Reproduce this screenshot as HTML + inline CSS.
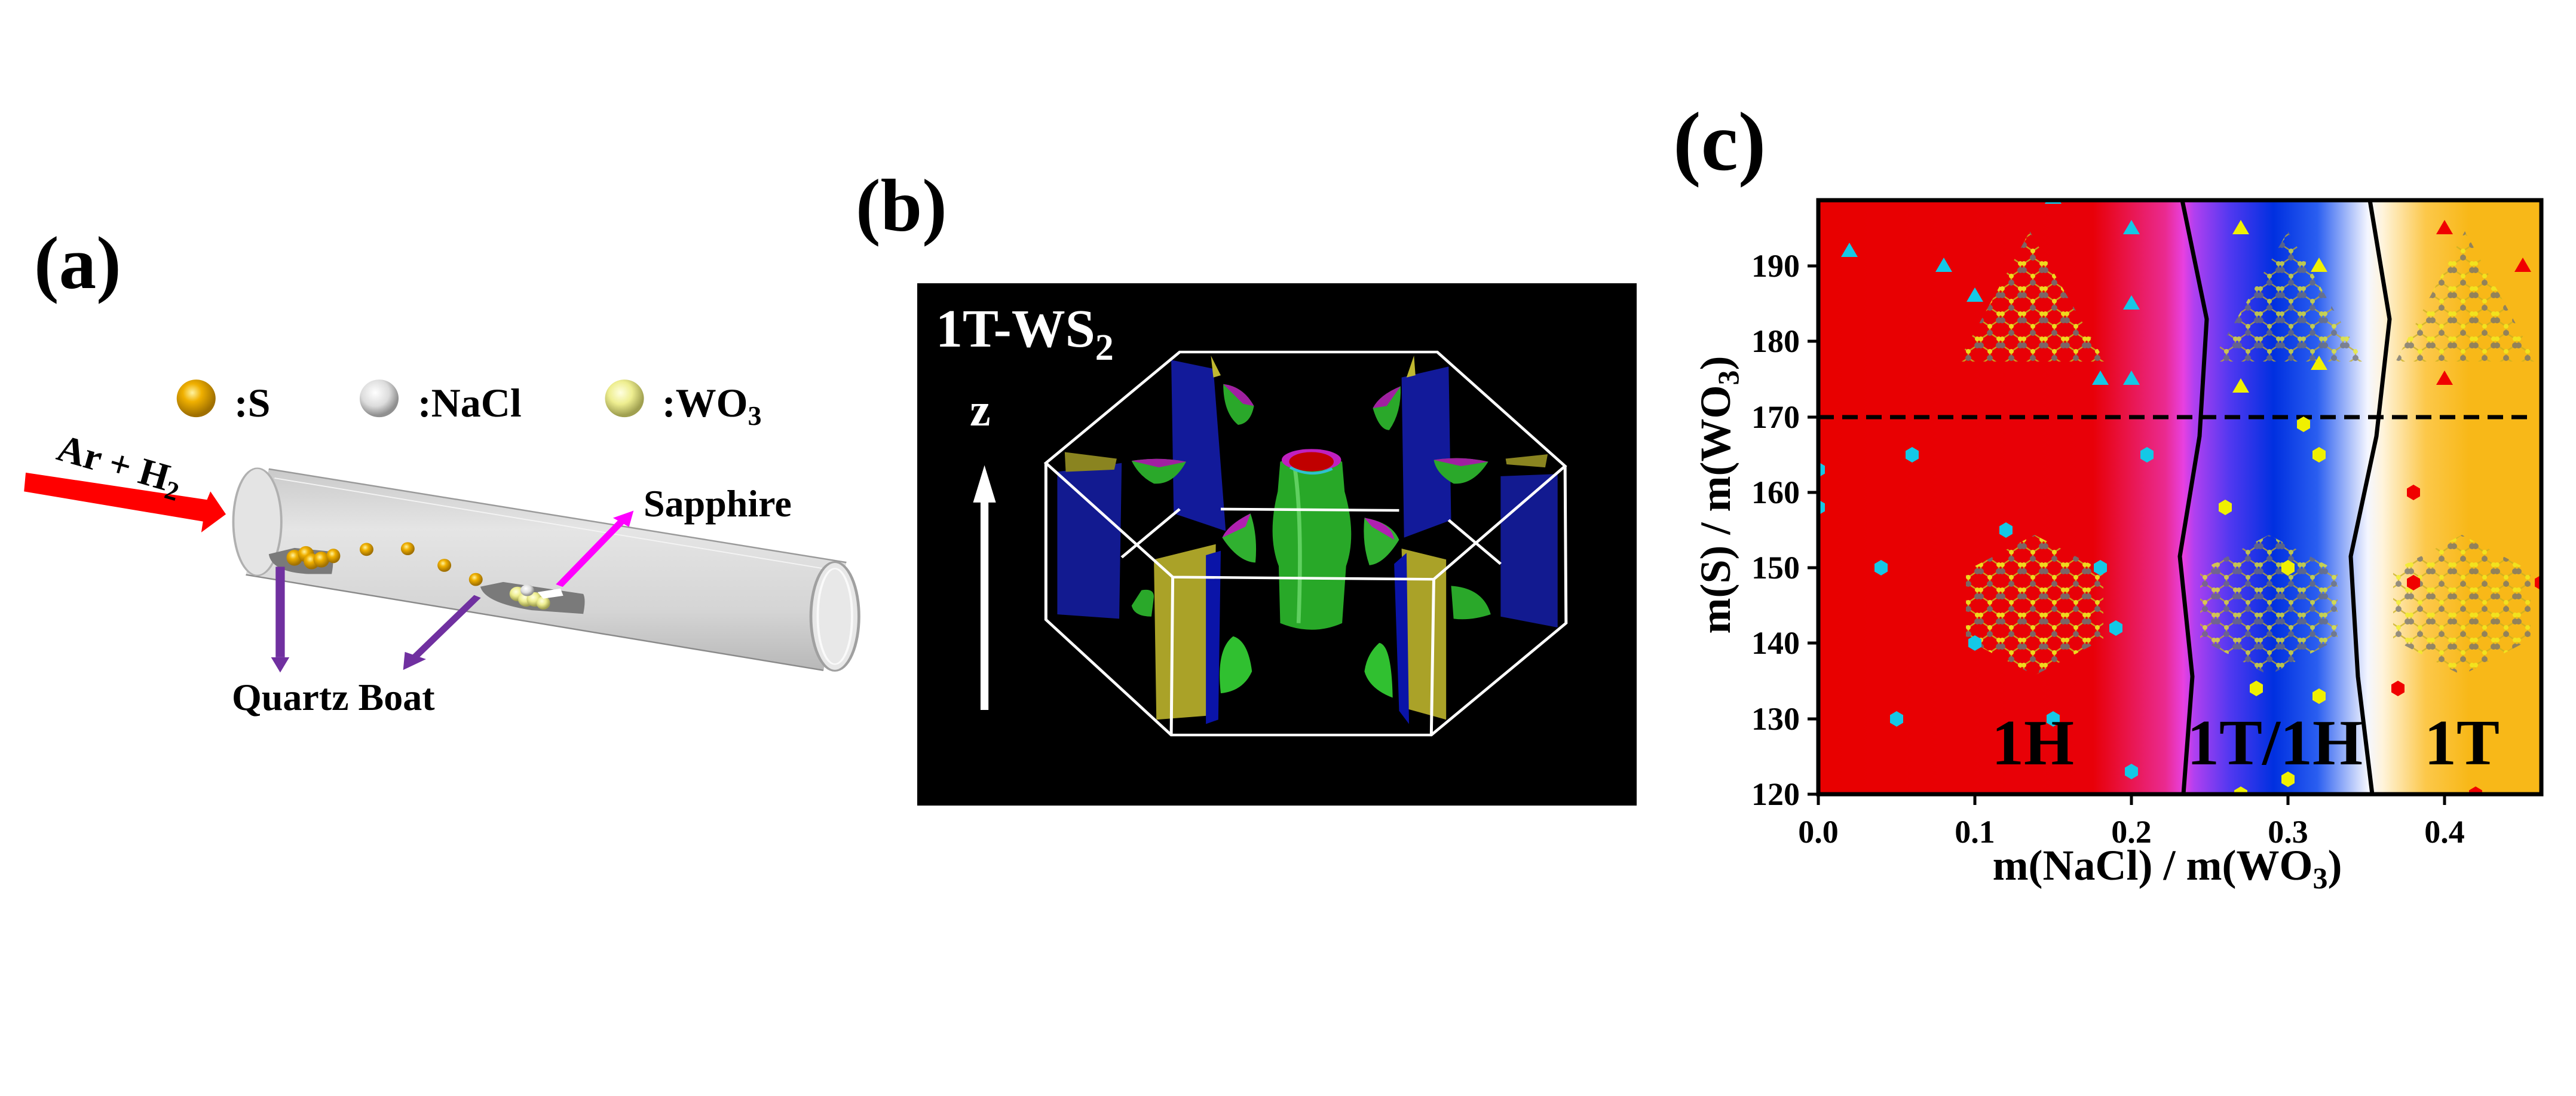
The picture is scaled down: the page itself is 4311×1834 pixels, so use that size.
<!DOCTYPE html>
<html><head><meta charset="utf-8"><style>
html,body{margin:0;padding:0;background:#fff;}
svg{display:block;}
text{font-family:"Liberation Serif",serif;font-weight:bold;}
</style></head><body>
<svg width="4311" height="1834" viewBox="0 0 4311 1834" xmlns="http://www.w3.org/2000/svg">
<defs>
<linearGradient id="bg" x1="3043" y1="0" x2="4253" y2="0" gradientUnits="userSpaceOnUse">
<stop offset="0" stop-color="#e80000"/>
<stop offset="0.38" stop-color="#e80008"/>
<stop offset="0.48" stop-color="#ea2a90"/>
<stop offset="0.505" stop-color="#e840e0"/>
<stop offset="0.52" stop-color="#b040f0"/>
<stop offset="0.57" stop-color="#5038f0"/>
<stop offset="0.63" stop-color="#0030e0"/>
<stop offset="0.69" stop-color="#2a5ef0"/>
<stop offset="0.76" stop-color="#f4f6ff"/>
<stop offset="0.78" stop-color="#fff4dc"/>
<stop offset="0.84" stop-color="#fcc84a"/>
<stop offset="0.9" stop-color="#f8b818"/>
<stop offset="1" stop-color="#f8b818"/>
</linearGradient>
<linearGradient id="tube" x1="0" y1="0" x2="0" y2="1">
<stop offset="0" stop-color="#c4c4c4"/><stop offset="0.3" stop-color="#e2e2e2"/><stop offset="0.7" stop-color="#d0d0d0"/><stop offset="1" stop-color="#b0b0b0"/>
</linearGradient>
<radialGradient id="gS" cx="0.4" cy="0.35" r="0.6"><stop offset="0" stop-color="#fff3a0"/><stop offset="0.4" stop-color="#f0b000"/><stop offset="1" stop-color="#a07000"/></radialGradient>
<radialGradient id="gN" cx="0.4" cy="0.35" r="0.6"><stop offset="0" stop-color="#ffffff"/><stop offset="0.6" stop-color="#dcdcdc"/><stop offset="1" stop-color="#909090"/></radialGradient>
<radialGradient id="gW" cx="0.4" cy="0.35" r="0.6"><stop offset="0" stop-color="#ffffe0"/><stop offset="0.5" stop-color="#eeee90"/><stop offset="1" stop-color="#a0a050"/></radialGradient>
<pattern id="atoms" x="0" y="0" width="36" height="42" patternUnits="userSpaceOnUse">
<path d="M18 0 L18 11 L3 21 L3 32 L18 42 M18 11 L33 21 L33 32 L18 42" stroke="#c8b020" stroke-width="2.5" fill="none"/>
<circle cx="18" cy="11" r="5" fill="#707070"/><circle cx="3" cy="32" r="5" fill="#707070"/><circle cx="33" cy="32" r="5" fill="#707070"/>
<circle cx="3" cy="21" r="4" fill="#f0f020"/><circle cx="33" cy="21" r="4" fill="#f0f020"/><circle cx="18" cy="42" r="4" fill="#f0f020"/><circle cx="18" cy="0" r="4" fill="#f0f020"/>
</pattern>
<polygon id="tri" points="0,-14 14,10 -14,10"/>
<polygon id="hex" points="0,-13 11,-6.5 11,6.5 0,13 -11,6.5 -11,-6.5"/>
</defs>
<rect width="4311" height="1834" fill="#fff"/>

<!-- ============ PANEL A ============ -->
<text x="57" y="482" font-size="125">(a)</text>
<g transform="translate(0,300) scale(0.957,0.606)">
 <polygon points="470,800 1480,1058 1440,1356 430,1092" fill="url(#tube)" opacity="0.9"/>
 <line x1="470" y1="800" x2="1480" y2="1058" stroke="#9a9a9a" stroke-width="4"/>
 <line x1="430" y1="1092" x2="1440" y2="1356" stroke="#8a8a8a" stroke-width="4"/>
 <line x1="480" y1="825" x2="1460" y2="1080" stroke="#f4f4f4" stroke-width="3"/>
 <ellipse cx="450" cy="946" rx="42" ry="148" fill="#e4e4e4" stroke="#b0b0b0" stroke-width="4"/>
 <ellipse cx="1460" cy="1207" rx="42" ry="150" fill="#e8e8e8" stroke="#a0a0a0" stroke-width="5"/>
 <ellipse cx="1460" cy="1207" rx="30" ry="132" fill="none" stroke="#fafafa" stroke-width="4"/>
 <path d="M470,1035 Q475,1085 540,1090 L580,1090 Q585,1050 580,1028 L515,1018 Z" fill="#7a7a7a"/>
 <path d="M840,1125 Q848,1170 930,1190 L1020,1200 Q1025,1160 1020,1145 L880,1112 Z" fill="#7a7a7a"/>
 <g fill="url(#gS)">
  <ellipse cx="515" cy="1045" rx="14" ry="22"/><ellipse cx="535" cy="1035" rx="14" ry="22"/><ellipse cx="545" cy="1055" rx="14" ry="22"/><ellipse cx="562" cy="1050" rx="14" ry="22"/><ellipse cx="583" cy="1040" rx="12" ry="20"/>
  <ellipse cx="641" cy="1022" rx="12" ry="18"/><ellipse cx="713" cy="1020" rx="12" ry="18"/><ellipse cx="777" cy="1066" rx="12" ry="18"/><ellipse cx="832" cy="1105" rx="12" ry="18"/>
 </g>
 <g fill="url(#gW)"><ellipse cx="905" cy="1145" rx="14" ry="20"/><ellipse cx="920" cy="1160" rx="14" ry="20"/><ellipse cx="935" cy="1160" rx="14" ry="20"/><ellipse cx="950" cy="1170" rx="12" ry="18"/></g>
 <ellipse cx="922" cy="1135" rx="12" ry="16" fill="url(#gN)"/>
 <polygon points="940,1140 980,1130 985,1150 950,1158" fill="#fff"/>
 <polygon points="45,810 362,885 368,862 395,925 352,975 355,945 42,862" fill="#ff0000"/>
 <line x1="978" y1="1122" x2="1090" y2="940" stroke="#ff00ff" stroke-width="14"/>
 <polygon points="1108,915 1072,935 1100,960" fill="#ff00ff"/>
 <line x1="490" y1="1070" x2="490" y2="1320" stroke="#7030a0" stroke-width="16"/>
 <polygon points="474,1320 506,1320 490,1362" fill="#7030a0"/>
 <line x1="835" y1="1152" x2="725" y2="1320" stroke="#7030a0" stroke-width="14"/>
 <polygon points="705,1355 708,1305 745,1325" fill="#7030a0"/>
 <ellipse cx="343" cy="605" rx="34" ry="52" fill="url(#gS)"/>
 <ellipse cx="663" cy="605" rx="34" ry="52" fill="url(#gN)"/>
 <ellipse cx="1092" cy="605" rx="34" ry="52" fill="url(#gW)"/>
</g>
<text x="392" y="697" font-size="68">:S</text>
<text x="699" y="697" font-size="68">:NaCl</text>
<text x="1108" y="697" font-size="68">:WO<tspan font-size="46" dy="14">3</tspan></text>
<text x="92" y="768" font-size="64" transform="rotate(16 92 768)">Ar + H<tspan font-size="44" dy="12">2</tspan></text>
<text x="1077" y="864" font-size="64">Sapphire</text>
<text x="388" y="1188" font-size="64">Quartz Boat</text>

<!-- ============ PANEL B ============ -->
<text x="1432" y="386" font-size="125">(b)</text>
<rect x="1535" y="474" width="1204" height="874" fill="#000"/>
<g transform="translate(1500,250) scale(0.829,0.734)">
 <polygon points="555,480 640,500 665,870 560,830" fill="#121a9a"/>
 <polygon points="1020,520 1115,495 1120,845 1025,885" fill="#121a9a"/>
 <polygon points="325,735 455,715 450,1070 325,1060" fill="#121a90"/>
 <polygon points="1220,745 1335,740 1335,1090 1220,1065" fill="#121a90"/>
 <polygon points="340,690 445,705 440,730 342,735" fill="#8a8420"/>
 <polygon points="1230,705 1315,695 1310,725 1232,718" fill="#8a8420"/>
 <polygon points="635,470 655,515 640,520" fill="#c0b830"/>
 <polygon points="1045,470 1030,520 1048,515" fill="#c0b830"/>
 <path d="M660,535 Q700,540 722,585 Q715,625 690,628 Q660,600 660,535Z" fill="#2aa82a"/>
 <path d="M660,535 Q700,540 722,585 L700,580Z" fill="#a020a0"/>
 <path d="M1018,540 Q975,560 962,590 Q975,640 995,640 Q1020,600 1018,540Z" fill="#2aa82a"/>
 <path d="M1018,540 Q975,560 962,590 L990,585Z" fill="#a020a0"/>
 <path d="M475,710 Q530,700 585,712 Q560,765 520,762 Q490,745 475,710Z" fill="#2aa82a"/>
 <path d="M475,710 Q530,700 585,712 L530,725Z" fill="#a020a0"/>
 <path d="M1085,708 Q1140,698 1195,712 Q1165,765 1125,762 Q1090,740 1085,708Z" fill="#2aa82a"/>
 <path d="M1085,708 Q1140,698 1195,712 L1140,722Z" fill="#a020a0"/>
 <path d="M715,830 Q670,855 658,885 Q690,940 725,942 Q730,880 715,830Z" fill="#30b030"/>
 <path d="M715,830 Q670,855 658,885 L705,860Z" fill="#b020b0"/>
 <path d="M945,840 Q1000,850 1015,890 Q985,945 955,948 Q940,900 945,840Z" fill="#30b030"/>
 <path d="M945,840 Q1000,850 1005,890 L960,860Z" fill="#b020b0"/>
 <path d="M495,1005 Q520,1000 520,1020 L515,1065 Q480,1065 475,1040Z" fill="#2aa82a"/>
 <path d="M1120,995 Q1185,1000 1200,1060 Q1160,1075 1125,1070Z" fill="#2aa82a"/>
 <path d="M680,1110 Q710,1120 718,1190 Q700,1235 655,1240 Q645,1140 680,1110Z" fill="#30c030"/>
 <path d="M975,1125 Q1000,1130 1002,1250 Q955,1230 945,1190 Q950,1150 975,1125Z" fill="#30c030"/>
 <path d="M775,712 Q840,680 900,712 L905,780 Q930,880 908,950 L900,1080 Q840,1110 775,1080 L772,950 Q748,880 770,780Z" fill="#28a828"/>
 <path d="M805,730 Q820,850 812,1080" stroke="#60d060" stroke-width="8" fill="none"/>
 <ellipse cx="838" cy="708" rx="60" ry="25" fill="#c020c0"/>
 <ellipse cx="838" cy="712" rx="45" ry="22" fill="#c00000"/>
 <path d="M795,725 Q838,750 880,728" stroke="#30c0d0" stroke-width="6" fill="none"/>
 <polygon points="520,935 645,900 640,1290 525,1300" fill="#aaa228"/>
 <polygon points="1020,910 1110,935 1110,1300 1030,1275" fill="#aaa228"/>
 <polygon points="625,925 655,915 650,1300 625,1310" fill="#0a14a8"/>
 <polygon points="1005,945 1030,920 1035,1310 1015,1280" fill="#0a14a8"/>
 <g stroke="#fff" stroke-width="6" fill="none">
  <polygon points="572,462 1092,462 1350,722 1085,980 558,975 302,715"/>
  <polyline points="302,715 302,1072 555,1335 1080,1335 1352,1080 1350,722"/>
  <line x1="558" y1="975" x2="555" y2="1335"/>
  <line x1="1085" y1="980" x2="1080" y2="1335"/>
  <polyline points="455,930 572,820"/>
  <polyline points="655,820 1015,823"/>
  <polyline points="1115,845 1220,945"/>
 </g>
 <line x1="178" y1="1278" x2="178" y2="790" stroke="#fff" stroke-width="16"/>
 <polygon points="155,805 201,805 178,720" fill="#fff"/>
</g>
<text x="1566" y="580" font-size="90" fill="#fff">1T-WS<tspan font-size="62" dy="22">2</tspan></text>
<text x="1623" y="712" font-size="78" fill="#fff">z</text>

<!-- ============ PANEL C ============ -->
<text x="2800" y="284" font-size="140">(c)</text>
<rect x="3043" y="335" width="1210" height="994" fill="url(#bg)"/>
<polygon points="3397,387 3277,605 3523,605" fill="url(#atoms)" opacity="0.9"/>
<polygon points="3829,387 3701,605 3956,605" fill="url(#atoms)" opacity="0.75"/>
<polygon points="4125,387 4009,605 4245,605" fill="url(#atoms)" opacity="0.75"/>
<polygon points="3405,895 3520,955 3520,1070 3405,1130 3290,1070 3290,955" fill="url(#atoms)" opacity="0.9"/>
<polygon points="3797,895 3912,955 3912,1070 3797,1130 3682,1070 3682,955" fill="url(#atoms)" opacity="0.75"/>
<polygon points="4120,895 4235,955 4235,1070 4120,1130 4005,1070 4005,955" fill="url(#atoms)" opacity="0.75"/>
<polyline points="3652,335 3693,534 3681,730 3648,931 3669,1132 3654,1329" fill="none" stroke="#000" stroke-width="7"/>
<polyline points="3966,335 3999,534 3977,730 3934,931 3946,1132 3970,1329" fill="none" stroke="#000" stroke-width="7"/>
<line x1="3043" y1="698" x2="4235" y2="698" stroke="#000" stroke-width="7" stroke-dasharray="26,14"/>
<svg x="3043" y="335" width="1210" height="994" overflow="hidden">
<g transform="translate(-3043,-335)">
<g fill="#14c8e6">
 <use href="#tri" x="3095" y="420"/><use href="#tri" x="3253" y="445"/><use href="#tri" x="3305" y="495"/><use href="#tri" x="3436" y="331"/>
 <use href="#tri" x="3567" y="382"/><use href="#tri" x="3567" y="508"/><use href="#tri" x="3515" y="634"/><use href="#tri" x="3567" y="634"/>
 <use href="#hex" x="3043" y="786"/><use href="#hex" x="3043" y="849"/><use href="#hex" x="3200" y="761"/><use href="#hex" x="3593" y="761"/>
 <use href="#hex" x="3357" y="887"/><use href="#hex" x="3148" y="950"/><use href="#hex" x="3515" y="950"/><use href="#hex" x="3541" y="1051"/>
 <use href="#hex" x="3305" y="1076"/><use href="#hex" x="3174" y="1203"/><use href="#hex" x="3436" y="1203"/><use href="#hex" x="3567" y="1291"/>
</g>
<g fill="#f0f000">
 <use href="#tri" x="3750" y="382"/><use href="#tri" x="3881" y="445"/><use href="#tri" x="3881" y="609"/><use href="#tri" x="3750" y="647"/>
 <use href="#hex" x="3855" y="710"/><use href="#hex" x="3881" y="761"/><use href="#hex" x="3724" y="849"/><use href="#hex" x="3829" y="950"/>
 <use href="#hex" x="3776" y="1152"/><use href="#hex" x="3881" y="1165"/><use href="#hex" x="3829" y="1304"/><use href="#hex" x="3750" y="1329"/>
</g>
<g fill="#f00000">
 <use href="#tri" x="4091" y="382"/><use href="#tri" x="4222" y="445"/><use href="#tri" x="4091" y="634"/>
 <use href="#hex" x="4039" y="824"/><use href="#hex" x="4039" y="975"/><use href="#hex" x="4253" y="975"/><use href="#hex" x="4013" y="1152"/><use href="#hex" x="4143" y="1329"/>
</g>
</g>
</svg>
<text x="3402" y="1279" font-size="108" text-anchor="middle">1H</text>
<text x="3807" y="1279" font-size="108" text-anchor="middle">1T/1H</text>
<text x="4120" y="1279" font-size="108" text-anchor="middle">1T</text>
<rect x="3043" y="335" width="1210" height="994" fill="none" stroke="#000" stroke-width="7"/>
<g stroke="#000" stroke-width="5">
 <line x1="3043" y1="1329" x2="3043" y2="1347"/><line x1="3305" y1="1329" x2="3305" y2="1347"/><line x1="3567" y1="1329" x2="3567" y2="1347"/><line x1="3829" y1="1329" x2="3829" y2="1347"/><line x1="4091" y1="1329" x2="4091" y2="1347"/>
 <line x1="3025" y1="1329" x2="3043" y2="1329"/><line x1="3025" y1="1203" x2="3043" y2="1203"/><line x1="3025" y1="1076" x2="3043" y2="1076"/><line x1="3025" y1="950" x2="3043" y2="950"/><line x1="3025" y1="824" x2="3043" y2="824"/><line x1="3025" y1="698" x2="3043" y2="698"/><line x1="3025" y1="571" x2="3043" y2="571"/><line x1="3025" y1="445" x2="3043" y2="445"/>
</g>
<g font-size="54" text-anchor="middle">
 <text x="3043" y="1410">0.0</text><text x="3305" y="1410">0.1</text><text x="3567" y="1410">0.2</text><text x="3829" y="1410">0.3</text><text x="4091" y="1410">0.4</text>
</g>
<g font-size="54" text-anchor="end">
 <text x="3012" y="1347">120</text><text x="3012" y="1221">130</text><text x="3012" y="1094">140</text><text x="3012" y="968">150</text><text x="3012" y="842">160</text><text x="3012" y="716">170</text><text x="3012" y="589">180</text><text x="3012" y="463">190</text>
</g>
<text x="3627" y="1472" font-size="72" text-anchor="middle">m(NaCl) / m(WO<tspan font-size="50" dy="14">3</tspan><tspan dy="-14">)</tspan></text>
<text x="2895" y="828" font-size="72" text-anchor="middle" transform="rotate(-90 2895 828)">m(S) / m(WO<tspan font-size="50" dy="14">3</tspan><tspan dy="-14">)</tspan></text>
</svg>
</body></html>
